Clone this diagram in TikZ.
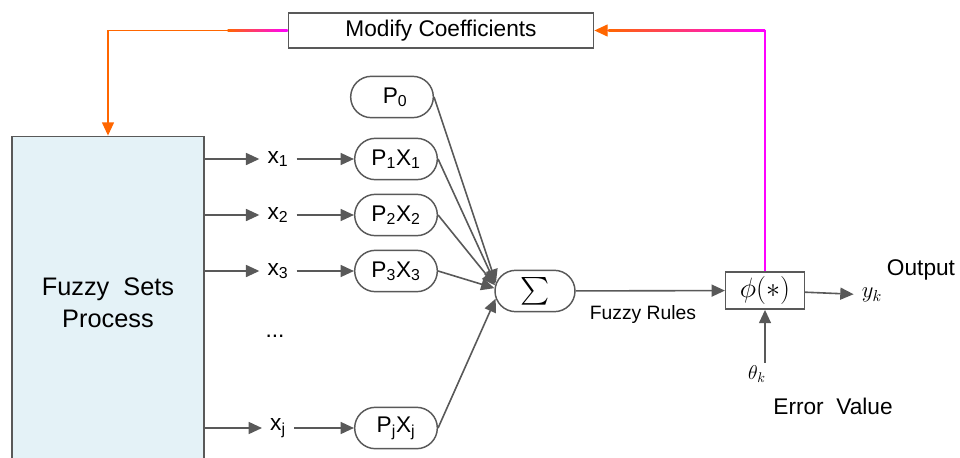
\RequirePackage{fix-cm}
\documentclass[tikz,border=0pt]{standalone}
\usepackage{exscale}
\usepackage{fontspec}
\setmainfont{Liberation Sans}
\usetikzlibrary{arrows.meta,shapes.misc,calc}
\definecolor{linegray}{RGB}{89,89,89}
\definecolor{fborange}{RGB}{255,102,0}
\definecolor{fbmagenta}{RGB}{255,0,255}
\definecolor{setblue}{RGB}{228,242,247}

\tikzset{
  wire/.style={linegray, line width=1.2pt, -{Triangle[length=10pt,width=9pt]}},
  pbox/.style={draw=linegray, line width=1.1pt, rounded rectangle, minimum width=66pt, minimum height=31pt, inner sep=2pt, font=\fontsize{17}{20}\selectfont},
  sbox/.style={draw=linegray, line width=1.1pt, minimum width=59pt, minimum height=28pt, font=\fontsize{17}{20}\selectfont},
  lbl/.style={inner sep=6pt, font=\fontsize{17}{20}\selectfont},
  fbline/.style={line width=1.1pt, -{Triangle[length=10pt,width=9pt]}}
}

\begin{document}
\begin{tikzpicture}[x=0.75pt,y=-0.75pt]
    \useasboundingbox (0,0) rectangle (960,457);

    % Feedback box and fuzzy sets block
    \node[sbox, minimum width=229pt, minimum height=26pt] (mod) at (441,30.5) {Modify Coefficients};
    \node[draw=linegray, line width=1.1pt, fill=setblue, minimum width=144pt, minimum height=250pt,
          align=center, font=\fontsize{19}{24}\selectfont] (fuzzy) at (108,303) {Fuzzy\ \ Sets\\Process};

    % Inputs and products
    \node[lbl] (x1) at (278,159) {x\textsubscript{1}};
    \node[lbl] (x2) at (278,215) {x\textsubscript{2}};
    \node[lbl] (x3) at (278,271) {x\textsubscript{3}};
    \node[lbl] (xd) at (275,336) {...};
    \node[lbl] (xj) at (278,428) {x\textsubscript{j}};

    \node[pbox] (p0) at (392,97) {\ P\textsubscript{0}};
    \node[pbox] (p1) at (396,159) {P\textsubscript{1}X\textsubscript{1}};
    \node[pbox] (p2) at (396,215) {P\textsubscript{2}X\textsubscript{2}};
    \node[pbox] (p3) at (396,271) {P\textsubscript{3}X\textsubscript{3}};
    \node[pbox] (pj) at (396,428) {P\textsubscript{j}X\textsubscript{j}};

    % Sum and output stage
    \node[pbox, minimum width=64pt, font=\fontsize{20}{24}\selectfont] (sig) at (535,291) {$\sum$};
    \node[sbox, font=\fontsize{21}{24}\selectfont, inner sep=1pt] (phi) at (765,290.5) {$\phi(*)$};
    \node[lbl] (yk) at (872,295) {$y_k$};
    \node[lbl] (outp) at (921,270) {Output};
    \node[font=\fontsize{14.5}{17}\selectfont] (rules) at (643,314) {Fuzzy Rules};
    \node[inner sep=2pt, font=\fontsize{15}{18}\selectfont] (theta) at (757,374) {$\theta_k$};
    \node[lbl] (err) at (833,406) {Error\ \ Value};

    \foreach \i in {1,2,3,j}{
        \draw[wire] (fuzzy.east |- x\i) -- (x\i);
        \draw[wire] (x\i) -- (p\i);
    }
    \draw[wire] (p0.east) -- (sig.168);
    \draw[wire] (p1.east) -- (sig.170);
    \draw[wire] (p2.east) -- (sig.172);
    \draw[wire] (p3.east) -- (sig.176);
    \draw[wire] (pj.east) -- (sig.191);
    \draw[wire] (sig) -- (phi);
    \draw[wire] (phi) -- (yk);
    \draw[wire] (phi.south |- theta.north) -- (phi.south);

    % Feedback loop
    \draw[fbline, fborange] (mod.west) -| (fuzzy.north);
    \shade[left color=fborange, right color=fbmagenta] ($(mod.west)+(-60,-0.8)$) rectangle ($(mod.west)+(0,0.8)$);
    \draw[fbline, fbmagenta, -{Triangle[length=10pt,width=9pt,color=fborange]}] (phi.north) |- (mod.east);
    \shade[left color=fborange, right color=fbmagenta] ($(mod.east)+(14,-0.8)$) rectangle ($(mod.east -| phi.north)+(0,0.8)$);
\end{tikzpicture}
\end{document}
